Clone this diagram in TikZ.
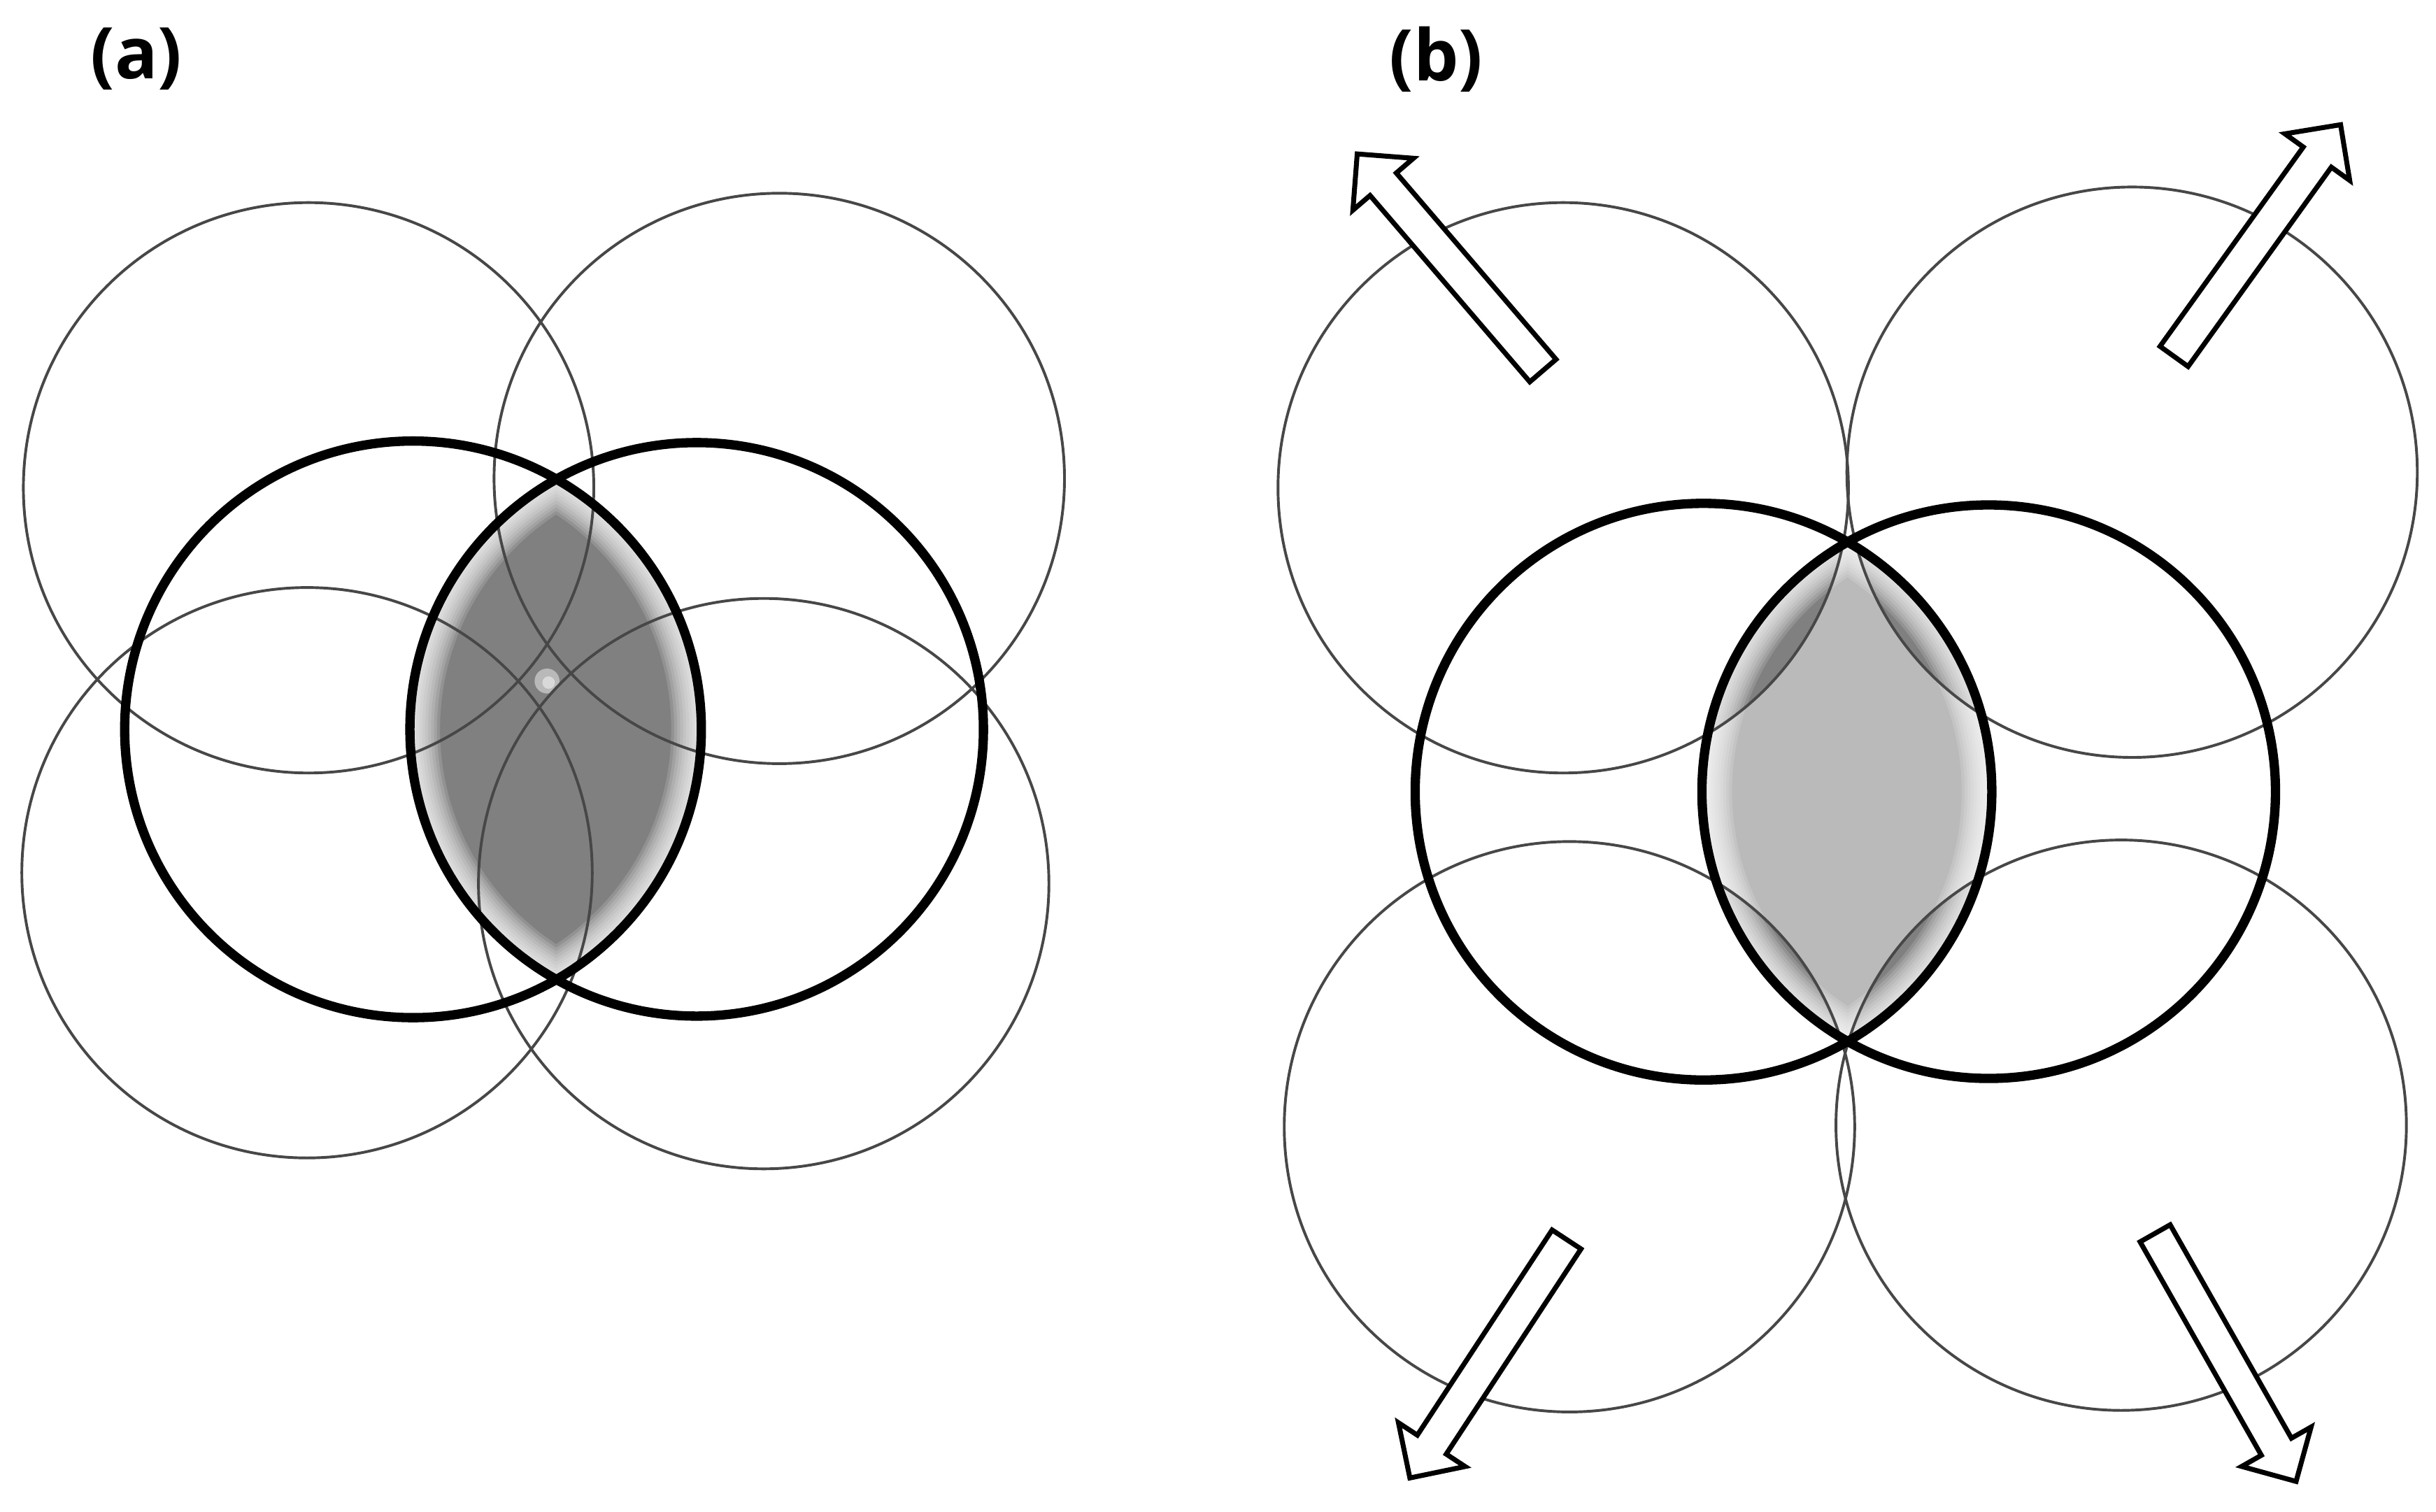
\documentclass[tikz,border=0pt]{standalone}
\usepackage{fontspec}
\setmainfont{Open Sans}
\usetikzlibrary{arrows.meta,positioning,shapes.arrows}

\begin{document}
\begin{tikzpicture}[x=0.01cm, y=-0.01cm,
    thincirc/.style={draw=black!72, line width=0.5pt},
    thickcirc/.style={draw=black, line width=1.7pt},
    outarrow/.style={single arrow, draw=black, line width=0.9pt, fill=white, single arrow tip angle=90, single arrow head extend=0.145cm, inner xsep=0pt, inner ysep=0.095cm, minimum height=1.83cm, anchor=tail},
    panellabel/.style={font=\bfseries\fontsize{13}{15}\selectfont, inner sep=0pt}]
    \useasboundingbox (0,0) rectangle (1563,970);
    % Centres of the circles, panel (a)
    \coordinate (a_tl) at (198,313);
    \coordinate (a_tr) at (500,307);
    \coordinate (a_bl) at (197,560);
    \coordinate (a_br) at (490,567);
    \coordinate (a_left) at (265,468);
    \coordinate (a_right) at (447,468);
    % Centres of the circles, panel (b)
    \coordinate (b_tl) at (1003,313);
    \coordinate (b_tr) at (1368,303);
    \coordinate (b_bl) at (1007,723);
    \coordinate (b_br) at (1361,722);
    \coordinate (b_left) at (1093,508);
    \coordinate (b_right) at (1276,508);
    % Shaded overlap, panel (a)
    \begin{scope}
        \clip (a_left) circle (185);
        \clip (a_right) circle (184);
        \fill[black!50] (a_left) circle (185);
        \foreach \w [evaluate=\w as \lw using \w*1.1] in {1,...,10}
            \draw[white, opacity=0.15, line width=\lw pt] (a_left) circle (185) (a_right) circle (184);
    \end{scope}
    \fill[white, opacity=0.45] (351,437) circle (8);
    \fill[white!85!black] (352,438) circle (4);
    % Shaded overlap, panel (b)
    \begin{scope}
        \clip (b_left) circle (185);
        \clip (b_right) circle (184);
        \fill[black!27] (b_left) circle (185);
        \fill[black!50] (b_tl) circle (183) (b_tr) circle (183) (b_bl) circle (183) (b_br) circle (183);
        \foreach \w [evaluate=\w as \lw using \w*1.1] in {1,...,10}
            \draw[white, opacity=0.15, line width=\lw pt] (b_left) circle (185) (b_right) circle (184);
    \end{scope}
    % Circles, panel (a)
    \draw[thincirc] (a_tl) circle (183);
    \draw[thincirc] (a_tr) circle (183);
    \draw[thincirc] (a_bl) circle (183);
    \draw[thincirc] (a_br) circle (183);
    \draw[thickcirc] (a_left) circle (185);
    \draw[thickcirc] (a_right) circle (184);
    % Circles, panel (b)
    \draw[thincirc] (b_tl) circle (183);
    \draw[thincirc] (b_tr) circle (183);
    \draw[thincirc] (b_bl) circle (183);
    \draw[thincirc] (b_br) circle (183);
    \draw[thickcirc] (b_left) circle (185);
    \draw[thickcirc] (b_right) circle (184);
    % Outward arrows
    \node[outarrow, rotate=130.6] (arr_tl) at (991,239) {};
    \node[outarrow, rotate=54.3] (arr_tr) at (1394,230) {};
    \node[outarrow, rotate=236.7] (arr_bl) at (1006,794) {};
    \node[outarrow, rotate=-60.4] (arr_br) at (1382,790) {};
    % Panel labels
    \node[panellabel] (lab_a) at (87.5,38) {(a)};
    \node[panellabel] (lab_b) at (921.5,38) {(b)};
\end{tikzpicture}
\end{document}
